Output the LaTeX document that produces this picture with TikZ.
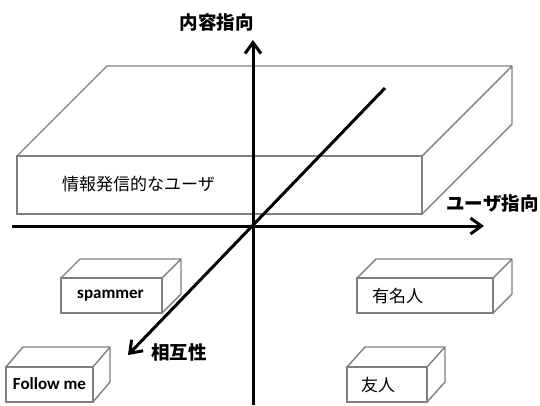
\documentclass[tikz,border=0pt]{standalone}
\usepackage{fontspec}
\setmainfont{Carlito}
\newfontfamily\cjk{Noto Sans CJK JP}
\usetikzlibrary{arrows.meta,calc}
\tikzset{
  face/.style={draw=black!50, line width=1.4pt, fill=white, outer sep=0pt, inner sep=0pt, anchor=north west},
  edge/.style={draw=black!50, line width=1.4pt, line join=round},
  axis/.style={line width=3pt, -{Straight Barb[length=11pt,width=16pt,line width=3pt]}},
  jlabel/.style={font=\cjk\bfseries\fontsize{18.5}{20}\selectfont, inner sep=0pt},
  jtext/.style={font=\cjk\fontsize{17}{19}\selectfont, inner sep=0pt},
  etext/.style={font=\bfseries\fontsize{17}{19}\selectfont, inner sep=0pt}
}
\newcommand\cubesides[3]{%
  \draw[edge] (#1.north west) -- ++(#2,#3) -| ($(#1.south east)+(#2,#3)$) -- (#1.south east)
              (#1.north east) -- ++(#2,#3);}
\begin{document}
\begin{tikzpicture}[x=1pt,y=-1pt]
\useasboundingbox (0,0) rectangle (540,405);
% big box
\node[face, minimum width=405pt, minimum height=58pt] (big) at (17,156) {};
\cubesides{big}{90}{-90}
\node[jtext, anchor=west] (bigt) at (62,184) {情報発信的なユーザ};
% small boxes
\node[face, minimum width=101pt, minimum height=35pt] (sp) at (61,278) {};
\cubesides{sp}{19}{-19}
\node[etext] (spt) at (110.5,296) {spammer};
\node[face, minimum width=87pt, minimum height=35pt] (fm) at (6,367) {};
\cubesides{fm}{17}{-20}
\node[etext] (fmt) at (49.5,384) {Follow me};
\node[face, minimum width=136pt, minimum height=35pt] (ym) at (357,278) {};
\cubesides{ym}{19}{-19}
\node[jtext] (ymt) at (397.5,296) {有名人};
\node[face, minimum width=80pt, minimum height=35pt] (yj) at (347,367) {};
\cubesides{yj}{18}{-20}
\node[jtext] (yjt) at (378,385) {友人};
% axes
\coordinate (vb) at (253,405);
\coordinate (vt) at (253,40);
\coordinate (hl) at (12,226);
\coordinate (hr) at (484,226);
\coordinate (dt) at (385,88);
\coordinate (db) at (128,355);
\draw[axis] (vb) -- (vt);
\draw[axis] (hl) -- (hr);
\draw[axis] (dt) -- (db);
\node[jlabel] (lv) at (216.5,22) {内容指向};
\node[jlabel] (lh) at (492.5,203) {ユーザ指向};
\node[jlabel] (ld) at (179,352) {相互性};
\end{tikzpicture}
\end{document}
